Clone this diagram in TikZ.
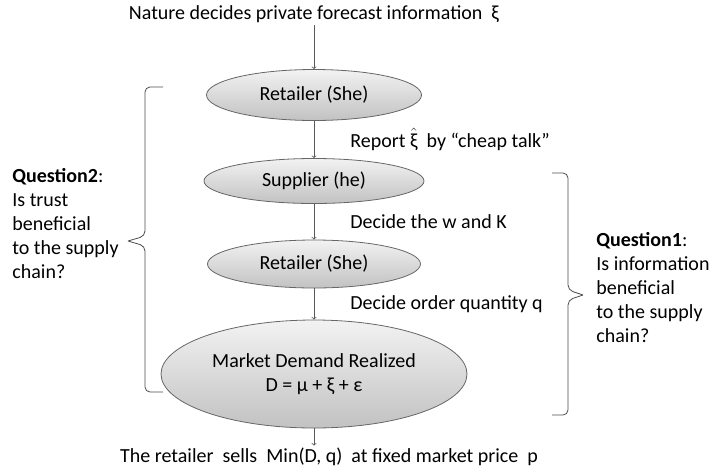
\documentclass[tikz,border=0pt]{standalone}
\usepackage{fontspec}
\setmainfont{Carlito}
\usetikzlibrary{shapes.geometric}

\begin{document}
\begin{tikzpicture}[x=1pt,y=-1pt,->,>=to,auto,thick,
  font=\fontsize{20}{24}\selectfont,
  stage node/.style={ellipse,draw=black!60,line width=0.8pt,
    top color=black!5,bottom color=black!24,inner sep=0pt},
  step label/.style={right=36pt,inner sep=0pt},
  question/.style={align=left,inner sep=0pt,anchor=west},
  brace line/.style={-,draw=black!70,line width=0.8pt,rounded corners=5pt}]

  \useasboundingbox (0,0) rectangle (712,472);

  \node[inner sep=2pt] (nature) at (314,14) {Nature decides private forecast information~ ξ};
  \node[stage node,minimum width=215pt,minimum height=51pt] (ret1) at (314,95) {Retailer (She)};
  \node[stage node,minimum width=220pt,minimum height=45pt] (sup) at (314,181) {Supplier (he)};
  \node[stage node,minimum width=213pt,minimum height=48pt] (ret2) at (314,264) {Retailer (She)};
  \node[stage node,minimum width=306pt,minimum height=108pt,align=center] (market) at (314,374)
    {Market Demand Realized\\D = μ + ξ + ε};
  \node[inner sep=2pt] (sells) at (329,457) {The retailer~ sells~ Min(D, q)~ at fixed market price~ p};

  \path[draw=black!65,line width=0.8pt]
    (nature) edge (ret1)
    (ret1) edge node [step label] {Report $\hat{\mbox{ξ}}$~ by “cheap talk”} (sup)
    (sup) edge node [step label] {Decide the w and K} (ret2)
    (ret2) edge node [step label] {Decide order quantity q} (market)
    (market) edge (sells.north -| market);

  % braces round the stages each question covers
  \draw[brace line] (163,87) -- (145,87) -- (145,236) -- (128,241)
                    (128,241) -- (145,246) -- (145,392) -- (163,392);
  \draw[brace line] (552,173) -- (568,173) -- (568,290) -- (583,295)
                    (583,295) -- (568,300) -- (568,415) -- (552,415);

  \node[question] (q2) at (12,224) {\textbf{Question2}:\\Is trust\\beneficial\\to the supply\\chain?};
  \node[question] (q1) at (596,288) {\textbf{Question1}:\\Is information\\beneficial\\to the supply\\chain?};
\end{tikzpicture}
\end{document}
